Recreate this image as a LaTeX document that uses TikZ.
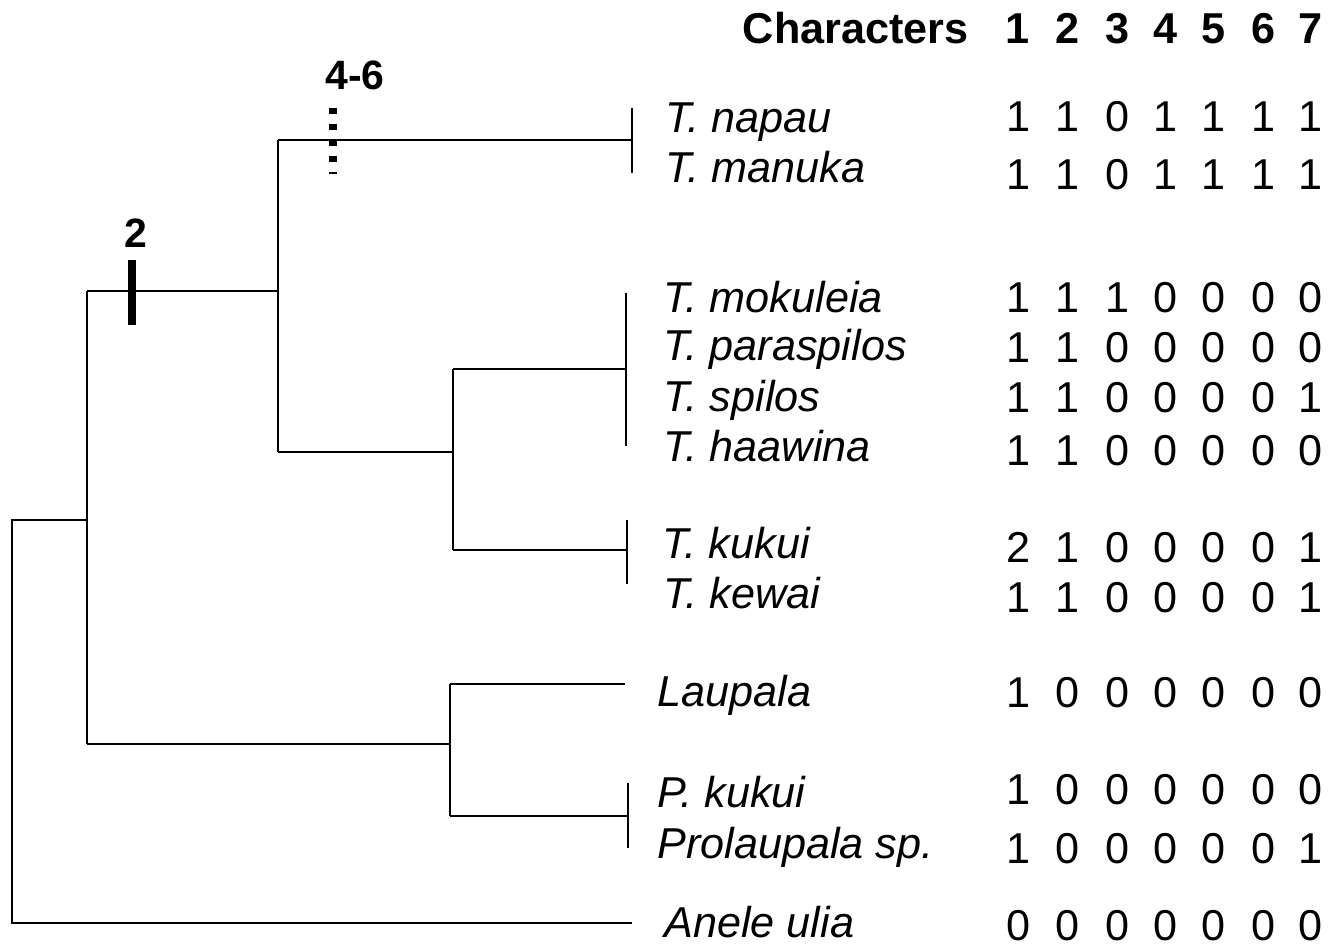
\documentclass[tikz,border=0pt]{standalone}
\usepackage{fontspec}
\setmainfont{Liberation Sans}
\begin{document}
\begin{tikzpicture}[x=0.5pt,y=-0.5pt,
  branch/.style={line width=1pt},
  lbl/.style={anchor=base west,inner sep=0pt,font=\fontsize{21.6}{25}\selectfont\itshape},
  dig/.style={anchor=base,inner sep=0pt,font=\fontsize{21.6}{25}\selectfont},
  hdr/.style={anchor=base,inner sep=0pt,font=\fontsize{21.6}{25}\selectfont\bfseries},
  marklbl/.style={anchor=base,inner sep=0pt,font=\fontsize{20.5}{24}\selectfont\bfseries},
  synapo/.style={line width=4pt}]
\useasboundingbox (0,0) rectangle (1332,947);
% header
\node[hdr,anchor=base east] (chr) at (969,44) {Characters};
\foreach \c/\x in {1/1017,2/1067,3/1117,4/1165,5/1213,6/1263,7/1310}
  \node[hdr] (h\c) at (\x,44) {\c};
% taxa labels
\node[lbl] (napau) at (665,133) {T. napau};
\node[lbl] (manuka) at (665,182) {T. manuka};
\node[lbl] (mokuleia) at (663,312) {T. mokuleia};
\node[lbl] (paraspilos) at (663,360) {T. paraspilos};
\node[lbl] (spilos) at (663,411) {T. spilos};
\node[lbl] (haawina) at (663,461) {T. haawina};
\node[lbl] (kukui) at (662,558) {T. kukui};
\node[lbl] (kewai) at (663,608) {T. kewai};
\node[lbl] (laupala) at (657,706) {Laupala};
\node[lbl] (pkukui) at (657,807) {P. kukui};
\node[lbl] (prolaupala) at (657,858) {Prolaupala sp.};
\node[lbl] (anele) at (664,937) {Anele ulia};
% character matrix
\foreach \r/\y/\a/\b/\cc/\d/\e/\f/\g in {
  1/132/1/1/0/1/1/1/1,
  2/189/1/1/0/1/1/1/1,
  3/312/1/1/1/0/0/0/0,
  4/362/1/1/0/0/0/0/0,
  5/412/1/1/0/0/0/0/1,
  6/465/1/1/0/0/0/0/0,
  7/562/2/1/0/0/0/0/1,
  8/612/1/1/0/0/0/0/1,
  9/707/1/0/0/0/0/0/0,
  10/804/1/0/0/0/0/0/0,
  11/863/1/0/0/0/0/0/1,
  12/940/0/0/0/0/0/0/0}{
  \node[dig] (m\r-1) at (1018,\y) {\a};
  \node[dig] (m\r-2) at (1067,\y) {\b};
  \node[dig] (m\r-3) at (1117,\y) {\cc};
  \node[dig] (m\r-4) at (1165,\y) {\d};
  \node[dig] (m\r-5) at (1213,\y) {\e};
  \node[dig] (m\r-6) at (1263,\y) {\f};
  \node[dig] (m\r-7) at (1310,\y) {\g};
}
% tree nodes
\coordinate (root) at (12,520);
\coordinate (rootbot) at (12,923);
\coordinate (anEnd) at (632,923);
\coordinate (n1) at (87,520);
\coordinate (n1t) at (87,291);
\coordinate (n1b) at (87,744);
\coordinate (n2) at (278,291);
\coordinate (n2t) at (278,140);
\coordinate (n2b) at (278,452);
\coordinate (t1) at (632,140);
\coordinate (t1a) at (632,108);
\coordinate (t1b) at (632,173);
\coordinate (n3) at (453,452);
\coordinate (n3t) at (453,369);
\coordinate (n3b) at (453,550);
\coordinate (t2) at (626,369);
\coordinate (t2a) at (626,293);
\coordinate (t2b) at (626,446);
\coordinate (t3) at (627,550);
\coordinate (t3a) at (627,520);
\coordinate (t3b) at (627,584);
\coordinate (n4) at (450,744);
\coordinate (n4t) at (450,684);
\coordinate (n4b) at (450,816);
\coordinate (t4) at (625,684);
\coordinate (t5) at (628,816);
\coordinate (t5a) at (628,783);
\coordinate (t5b) at (628,848);
% branches
\draw[branch] (n1) -- (root) -- (rootbot) -- (anEnd);
\draw[branch] (n1t) -- (n1b);
\draw[branch] (n1t) -- (n2);
\draw[branch] (n2t) -- (n2b);
\draw[branch] (n2t) -- (t1);
\draw[branch] (t1a) -- (t1b);
\draw[branch] (n2b) -- (n3);
\draw[branch] (n3t) -- (n3b);
\draw[branch] (n3t) -- (t2);
\draw[branch] (t2a) -- (t2b);
\draw[branch] (n3b) -- (t3);
\draw[branch] (t3a) -- (t3b);
\draw[branch] (n1b) -- (n4);
\draw[branch] (n4t) -- (n4b);
\draw[branch] (n4t) -- (t4);
\draw[branch] (n4b) -- (t5);
\draw[branch] (t5a) -- (t5b);
% synapomorphy marks
\coordinate (s2a) at (132,260);
\coordinate (s2b) at (132,325);
\draw[synapo] (s2a) -- (s2b);
\node[marklbl] (lab2) at (136,247) {2};
\coordinate (s46a) at (333,108);
\coordinate (s46b) at (333,164);
\draw[synapo,dash pattern=on 3.2pt off 4.8pt] (s46a) -- (s46b);
\coordinate (s46c) at (329,173);
\coordinate (s46d) at (337,173);
\draw[line width=0.8pt] (s46c) -- (s46d);
\node[marklbl] (lab46) at (355,90) {4-6};
\end{tikzpicture}
\end{document}
